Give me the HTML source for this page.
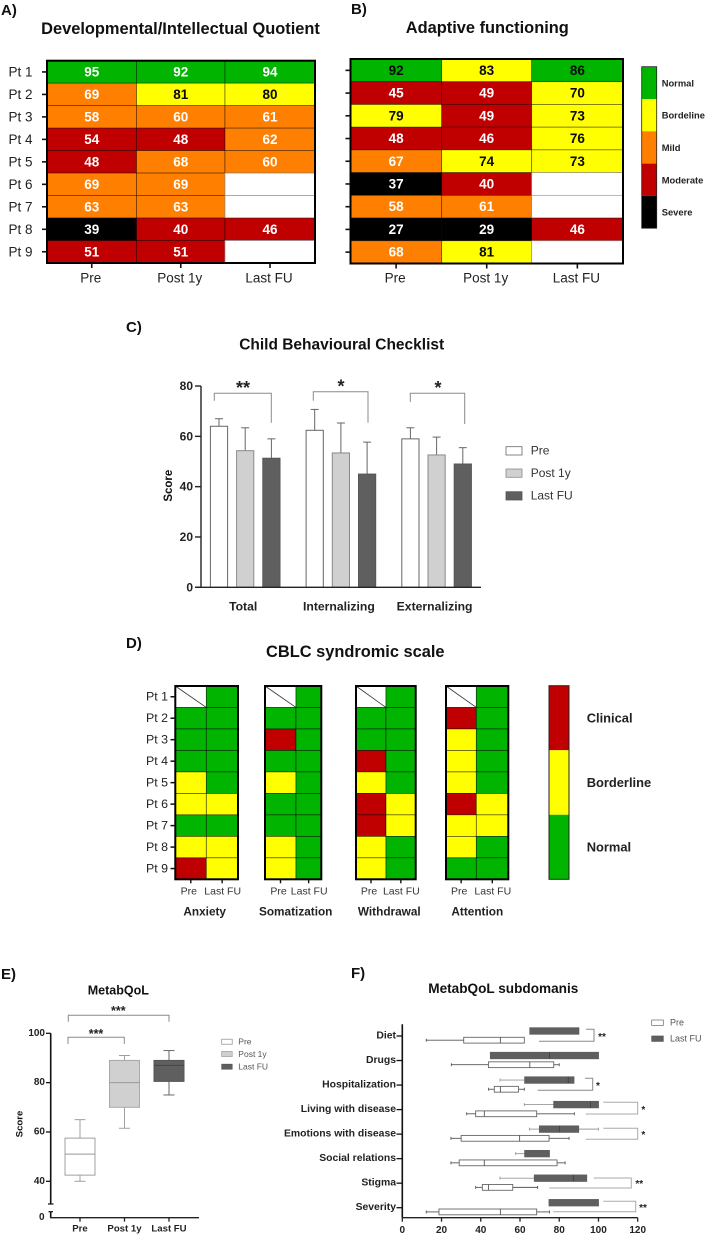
<!DOCTYPE html>
<html lang="en">
<head>
<meta charset="utf-8">
<title>Clinical outcome charts</title>
<style>
html,body{margin:0;padding:0;background:#fff;}
svg{display:block;font-family:"Liberation Sans",Arial,sans-serif;filter:blur(0.35px);}
.letter{font-size:15px;font-weight:bold;fill:#111;}
.title{font-weight:bold;fill:#111;text-anchor:middle;dominant-baseline:central;}
.br{fill:none;stroke:#8a8a8a;stroke-width:1;}
.star{font-weight:bold;fill:#222;text-anchor:middle;dominant-baseline:central;}
.leg{fill:#333;dominant-baseline:central;}
</style>
</head>
<body>
<svg id="fig" xmlns="http://www.w3.org/2000/svg" width="709" height="1236" viewBox="0 0 709 1236">
  <rect width="709" height="1236" fill="#fff"/>

  <text class="letter" x="1" y="15">A)</text>
  <text class="letter" x="351" y="14">B)</text>
  <text class="letter" x="126" y="332">C)</text>
  <text class="letter" x="126" y="648">D)</text>
  <text class="letter" x="1" y="979">E)</text>
  <text class="letter" x="351" y="978">F)</text>

  <text class="title" x="180.5" y="29" font-size="16.4">Developmental/Intellectual Quotient</text>
  <text class="title" x="487.3" y="28" font-size="16.4">Adaptive functioning</text>
  <text class="title" x="341.7" y="345" font-size="15.5">Child Behavioural Checklist</text>
  <text class="title" x="355.3" y="652" font-size="16.4">CBLC syndromic scale</text>
  <text class="title" x="118.3" y="990.7" font-size="12.5">MetabQoL</text>
  <text class="title" x="503.3" y="988.7" font-size="13.6">MetabQoL subdomanis</text>

  <!-- Panel C significance brackets -->
  <polyline class="br" points="214.3,400.7 214.3,393.3 271.3,393.3 271.3,422.7"/>
  <polyline class="br" points="313.3,400.7 313.3,391.7 368,391.7 368,422.7"/>
  <polyline class="br" points="410.3,402 410.3,393.3 464.7,393.3 464.7,424"/>
  <text class="star" x="243" y="388" font-size="18">**</text>
  <text class="star" x="341" y="386.5" font-size="18">*</text>
  <text class="star" x="438" y="388" font-size="18">*</text>

  <!-- Panel C legend -->
  <rect x="506" y="446.7" width="16" height="8.3" fill="#fff" stroke="#666" stroke-width="0.8"/>
  <rect x="506" y="469" width="16" height="8.3" fill="#d0d0d0" stroke="#888" stroke-width="0.8"/>
  <rect x="506" y="491.7" width="16" height="8.3" fill="#5f5f5f" stroke="#555" stroke-width="0.8"/>
  <text class="leg" x="530.7" y="450.5" font-size="12">Pre</text>
  <text class="leg" x="530.7" y="473" font-size="12">Post 1y</text>
  <text class="leg" x="530.7" y="495.5" font-size="12">Last FU</text>
  <text class="title" font-size="11.5" transform="translate(169,485.7) rotate(-90)">Score</text>

  <!-- Panel E annotations -->
  <polyline class="br" points="68.3,1021.7 68.3,1015.3 169,1015.3 169,1021.7"/>
  <polyline class="br" points="68,1044 68,1037.3 124.3,1037.3 124.3,1044"/>
  <text class="star" x="118.3" y="1011" font-size="12.5">***</text>
  <text class="star" x="96" y="1034" font-size="12.5">***</text>
  <rect x="221.7" y="1039.2" width="10.5" height="5" fill="#fff" stroke="#888" stroke-width="0.7"/>
  <rect x="221.7" y="1051.5" width="10.5" height="5" fill="#d0d0d0" stroke="#999" stroke-width="0.7"/>
  <rect x="221.7" y="1064.2" width="10.5" height="5" fill="#5f5f5f" stroke="#555" stroke-width="0.7"/>
  <text class="leg" x="238.3" y="1041.7" font-size="8.5" style="fill:#555">Pre</text>
  <text class="leg" x="238.3" y="1054" font-size="8.5" style="fill:#555">Post 1y</text>
  <text class="leg" x="238.3" y="1066.7" font-size="8.5" style="fill:#555">Last FU</text>
  <text class="title" font-size="9.6" transform="translate(20,1124) rotate(-90)">Score</text>

  <!-- Panel F annotations -->
  <polyline class="br" points="586,1029.3 594,1029.3 594,1041.3 539,1041.3"/>
  <polyline class="br" points="585,1078.3 592.7,1078.3 592.7,1090.3 537.7,1090.3"/>
  <polyline class="br" style="stroke:#aaa" points="603.3,1102.3 637.7,1102.3 637.7,1114 585.7,1114"/>
  <polyline class="br" style="stroke:#aaa" points="603.3,1128.3 637.7,1128.3 637.7,1139.3 585.7,1139.3"/>
  <polyline class="br" style="stroke:#aaa" points="593.7,1178 631.3,1178 631.3,1188 549.3,1188"/>
  <polyline class="br" style="stroke:#aaa" points="603.3,1201.3 635.7,1201.3 635.7,1211.7 553.3,1211.7"/>
  <text class="star" x="602" y="1037.5" font-size="10">**</text>
  <text class="star" x="598" y="1086.5" font-size="10">*</text>
  <text class="star" x="643.3" y="1110.5" font-size="10">*</text>
  <text class="star" x="643.3" y="1135.5" font-size="10">*</text>
  <text class="star" x="639.3" y="1184.5" font-size="10">**</text>
  <text class="star" x="643" y="1208.5" font-size="10">**</text>
  <rect x="651.7" y="1020" width="11.6" height="5.4" fill="#fff" stroke="#666" stroke-width="0.7"/>
  <rect x="651.7" y="1036" width="11.6" height="5.4" fill="#5f5f5f" stroke="#555" stroke-width="0.7"/>
  <text class="leg" x="670" y="1022.7" font-size="9" style="fill:#555">Pre</text>
  <text class="leg" x="670" y="1038.7" font-size="9" style="fill:#555">Last FU</text>
</svg>

<script>
// ---------- shared categories ----------
const patients = ['Pt 1','Pt 2','Pt 3','Pt 4','Pt 5','Pt 6','Pt 7','Pt 8','Pt 9'];
const timepoints = ['Pre','Post 1y','Last FU'];

// ---------- panel A / B values ----------
const dqPre  = [95,69,58,54,48,69,63,39,51];
const dqPost = [92,81,60,48,68,69,63,40,51];
const dqLast = [94,80,61,62,60,null,null,46,null];
const afPre  = [92,45,79,48,67,37,58,27,68];
const afPost = [83,49,49,46,74,40,61,29,81];
const afLast = [86,70,73,76,73,null,null,46,null];
const severityLabels = ['Normal','Bordeline','Mild','Moderate','Severe'];

// ---------- panel C values ----------
const cblGroups = ['Total','Internalizing','Externalizing'];
const cblSeries = ['Pre','Post 1y','Last FU'];
const cblPre  = [64,62.4,59];
const cblPost = [54.3,53.4,52.6];
const cblLast = [51.3,45,49];
const cblErrPre  = [3,8.3,4.4];
const cblErrPost = [9.1,11.9,7.1];
const cblErrLast = [7.7,12.7,6.5];
const cblTicks = [0,20,40,60,80];

// ---------- panel D values (N normal, B borderline, C clinical, null missing) ----------
const syndromes = ['Anxiety','Somatization','Withdrawal','Attention'];
const syndromeCols = ['Pre','Last FU'];
const anxietyPre  = [null,'N','N','N','B','B','N','B','C'];
const anxietyLast = ['N','N','N','N','N','B','N','B','B'];
const somatPre  = [null,'N','C','N','B','N','N','B','B'];
const somatLast = ['N','N','N','N','N','N','N','N','N'];
const withdrawalPre  = [null,'N','N','C','B','C','C','B','B'];
const withdrawalLast = ['N','N','N','N','N','B','B','N','N'];
const attentionPre  = [null,'C','B','B','B','C','B','B','N'];
const attentionLast = ['N','N','N','N','N','B','B','N','N'];
const clinicalLabels = ['Clinical','Borderline','Normal'];

// ---------- panel E values ----------
const qolGroups = ['Pre','Post 1y','Last FU'];
const qolMin = [40,61.5,75];
const qolQ1  = [42.5,70,80.5];
const qolMed = [51,80,87];
const qolQ3  = [57.5,89,89];
const qolMax = [65,91,93];
const qolTicks = [0,40,60,80,100];

// ---------- panel F values ----------
const domains = ['Diet','Drugs','Hospitalization','Living with disease','Emotions with disease','Social relations','Stigma','Severity'];
const preMin = [12.2,25,44,32.8,24.8,24.8,37.4,12.2];
const preQ1  = [31.3,43.9,46.9,37.4,30,29,40.8,18.7];
const preMed = [50,65,50,41.8,59.8,41.8,43.9,50];
const preQ3  = [62.2,77.2,59.2,68.5,74.8,78.9,56.3,68.5];
const preMax = [62.2,80,62.2,87.7,85,83,69,75];
const lastMin = [65,44.9,49.8,62.2,64.8,57.8,49.8,74.8];
const lastQ1  = [65,44.9,62.4,77.2,69.9,62.4,67.3,74.8];
const lastMed = [null,75,84.6,95.9,80.2,null,87.2,null];
const lastQ3  = [90,100,87.5,100,89.9,75,94,100];
const lastMax = [90,100,87.5,100,100,75,94,100];
const domainTicks = [0,20,40,60,80,100,120];

// ---------- helpers ----------
const NS = 'http://www.w3.org/2000/svg';
const fig = document.getElementById('fig');
function make(tag, attrs) {
  const el = document.createElementNS(NS, tag);
  for (const k in attrs) el.setAttribute(k, attrs[k]);
  fig.appendChild(el);
  return el;
}
function line(x1, y1, x2, y2, stroke, width) {
  return make('line', {x1, y1, x2, y2, stroke, 'stroke-width': width});
}
function label(str, x, y, size, anchor, weight, fill) {
  const t = make('text', {x, y, 'font-size': size, 'text-anchor': anchor, 'font-weight': weight, fill, 'dominant-baseline': 'central'});
  t.textContent = str;
  return t;
}
const slug = s => s.toLowerCase().replace(/[^a-z0-9]+/g, '-');
const SCALE_COLORS = {Normal:'#00b400', Bordeline:'#ffff00', Mild:'#ff7f00', Moderate:'#c00000', Severe:'#000000'};
function severityOf(v) {
  if (v >= 85) return 'Normal';
  if (v >= 70) return 'Bordeline';
  if (v >= 55) return 'Mild';
  if (v >= 40) return 'Moderate';
  return 'Severe';
}

// ---------- panels A and B ----------
function drawHeatmap(prefix, x0, x1, x2, x3, y0, y1, columns, showRows) {
  const edges = [x0, x1, x2, x3];
  const rowH = (y1 - y0) / patients.length;
  const rowY = i => y0 + i * rowH;
  columns.forEach((col, c) => {
    col.forEach((v, r) => {
      const cell = make('rect', {x: edges[c], y: rowY(r), width: edges[c+1]-edges[c], height: rowH,
        fill: v === null ? '#fff' : SCALE_COLORS[severityOf(v)], stroke: v === null ? '#999' : 'rgba(0,0,0,.55)', 'stroke-width': 0.7});
      
      
      if (v !== null) {
        const sev = severityOf(v);
        const dark = sev === 'Bordeline' || (prefix === 'adaptive' && sev === 'Normal');
        const tx = label(String(v), (edges[c]+edges[c+1])/2, rowY(r)+rowH/2, 13.5, 'middle', 'bold', dark ? '#0a0a0a' : '#fff');
        
        
      }
    });
  });
  const frame = make('rect', {x: x0, y: y0, width: x3-x0, height: y1-y0, fill: 'none', stroke: '#000', 'stroke-width': 2});
  
  
  patients.forEach((p, r) => {
    const tick = line(x0-5, rowY(r)+rowH/2, x0, rowY(r)+rowH/2, '#111', 1.6);
    
    
    if (showRows) {
      const t = label(p, x0-14.5, rowY(r)+rowH/2, 13.5, 'end', 'normal', '#222');
      
      
    }
  });
  timepoints.forEach((tp, c) => {
    const cx = (edges[c]+edges[c+1])/2;
    const tick = line(cx, y1, cx, y1+5, '#111', 1.6);
    
    
    const t = label(tp, cx-1, 278, 13.5, 'middle', 'normal', '#222');
    
    
  });
}
drawHeatmap('quotient', 47, 136.5, 225, 315, 60.7, 263, [dqPre, dqPost, dqLast], true);
drawHeatmap('adaptive', 350.5, 441.7, 531.7, 623, 59, 263.5, [afPre, afPost, afLast], false);

// severity colour scale
severityLabels.forEach((name, i) => {
  const segH = 32.3;
  const top = 66.7 + i * segH;
  const seg = make('rect', {x: 641.7, y: top, width: 15, height: segH, fill: SCALE_COLORS[name]});
  
  
  const tx = label(name, 661.7, top + segH/2, 9.4, 'start', 'bold', '#222');
  
  
});
const scaleBorder = make('rect', {x: 641.7, y: 66.7, width: 15, height: 161.5, fill: 'none', stroke: '#222', 'stroke-width': 0.8});



// ---------- panel C ----------
const cY = v => 587.3 - v * 2.516;
const cX = (g, s) => 219 + g * 95.7 + s * 26.2;
const cFill = ['#fff', '#d0d0d0', '#5f5f5f'];
const cStroke = ['#666', '#8a8a8a', '#555'];
[cblPre, cblPost, cblLast].forEach((values, s) => {
  const errs = [cblErrPre, cblErrPost, cblErrLast][s];
  values.forEach((v, g) => {
    const whisker = line(cX(g, s), cY(v), cX(g, s), cY(v + errs[g]), '#666', 1);
    
    
    const cap = line(cX(g, s)-4, cY(v + errs[g]), cX(g, s)+4, cY(v + errs[g]), '#666', 1);
    
    
    const bar = make('rect', {x: cX(g, s)-8.6, y: cY(v), width: 17.2, height: cY(0)-cY(v), fill: cFill[s], stroke: cStroke[s], 'stroke-width': 1});
    
    
  });
});
const cYAxis = line(201, cY(80), 201, cY(0), '#222', 1.4);


const cXAxis = line(195, cY(0), 481, cY(0), '#222', 1.4);


cblTicks.forEach(t => {
  const tick = line(195, cY(t), 201, cY(t), '#222', 1.4);
  
  
  const tx = label(String(t), 193, cY(t), 12, 'end', 'bold', '#222');
  
  
});
cblGroups.forEach((name, g) => {
  const tx = label(name, cX(g, 1) - 2, 606.7, 12.2, 'middle', 'bold', '#222');
  
  
});

// ---------- panel D ----------
const D_COLORS = {N:'#00b400', B:'#ffff00', C:'#c00000'};
const dY0 = 686, dY1 = 879.3;
const dRowH = (dY1 - dY0) / patients.length;
function drawSyndrome(idx, x0, xm, x1, preCol, lastCol, labelX) {
  const name = syndromes[idx];
  const edges = [x0, xm, x1];
  [preCol, lastCol].forEach((col, c) => {
    col.forEach((v, r) => {
      const top = dY0 + r * dRowH;
      const cell = make('rect', {x: edges[c], y: top, width: edges[c+1]-edges[c], height: dRowH, fill: v === null ? '#fff' : D_COLORS[v], stroke: 'rgba(0,0,0,.65)', 'stroke-width': 0.7});
      
      
      if (v === null) {
        const diag = line(edges[c], top, edges[c+1], top + dRowH, '#333', 0.8);
        
        
      }
    });
  });
  const frame = make('rect', {x: x0, y: dY0, width: x1-x0, height: dY1-dY0, fill: 'none', stroke: '#000', 'stroke-width': 2});
  
  
  syndromeCols.forEach((cn, c) => {
    const cx = (edges[c]+edges[c+1])/2;
    const tick = line(cx, dY1, cx, dY1+4, '#111', 1.4);
    
    
    const tx = label(cn, cx - (c === 0 ? 2 : -0.5), 891.7, 10.5, 'middle', 'normal', '#333');
    
    
  });
  const gl = label(name, labelX, 911.7, 11.8, 'middle', 'bold', '#222');
  
  
}
drawSyndrome(0, 175.3, 206.3, 238, anxietyPre, anxietyLast, 204.7);
drawSyndrome(1, 265, 296, 321.3, somatPre, somatLast, 295.7);
drawSyndrome(2, 356, 386, 415.7, withdrawalPre, withdrawalLast, 389.3);
drawSyndrome(3, 446, 476.3, 508.3, attentionPre, attentionLast, 477.3);
patients.forEach((p, r) => {
  const cy = dY0 + (r + 0.5) * dRowH;
  const tick = line(170.5, cy, 175.3, cy, '#111', 1.5);
  
  
  const tx = label(p, 168, cy, 12.4, 'end', 'normal', '#222');
  
  
});
['C','B','N'].forEach((k, i) => {
  const segH = (879.3 - 685.7) / 3;
  const top = 685.7 + i * segH;
  const seg = make('rect', {x: 549, y: top, width: 20, height: segH, fill: D_COLORS[k]});
  
  
  const tx = label(clinicalLabels[i], 586.7, top + segH/2, 12.9, 'start', 'bold', '#222');
  
  
});
const clinicalBorder = make('rect', {x: 549, y: 685.7, width: 20, height: 193.6, fill: 'none', stroke: '#222', 'stroke-width': 1});



// ---------- panel E ----------
const eY = v => v === 0 ? 1217.7 : 1181.3 - (v - 40) * 2.4667;
const eX = i => 80 + i * 44.5;
const eFill = ['#fff', '#d0d0d0', '#5f5f5f'];
const eStroke = ['#a0a0a0', '#a8a8a8', '#555'];
qolGroups.forEach((name, i) => {
  const cx = eX(i);
  const stem = line(cx, eY(qolMin[i]), cx, eY(qolMax[i]), i === 2 ? '#666' : '#a0a0a0', 1);
  
  
  const capLow = line(cx-5.5, eY(qolMin[i]), cx+5.5, eY(qolMin[i]), i === 2 ? '#666' : '#a0a0a0', 1);
  
  
  const capHigh = line(cx-5.5, eY(qolMax[i]), cx+5.5, eY(qolMax[i]), i === 2 ? '#666' : '#a0a0a0', 1);
  
  
  const box = make('rect', {x: cx-15, y: eY(qolQ3[i]), width: 30, height: eY(qolQ1[i])-eY(qolQ3[i]), fill: eFill[i], stroke: eStroke[i], 'stroke-width': 1});
  
  
  const med = line(cx-15, eY(qolMed[i]), cx+15, eY(qolMed[i]), i === 2 ? '#444' : '#999', 1);
  
  
  const tick = line(cx, 1217.7, cx, 1221.7, '#222', 1.3);
  
  
  const tx = label(name, cx, 1229, 9.6, 'middle', 'bold', '#222');
  
  
});
const eAxisUpper = line(50.7, eY(100), 50.7, 1204, '#111', 1.6);


const eBreakTop = line(48, 1204, 53.5, 1204, '#111', 1.2);


const eAxisLower = line(50.7, 1211.7, 50.7, 1217.7, '#111', 1.6);


const eBreakLow = line(48.5, 1211.7, 53, 1211.7, '#111', 1.2);


const eXAxis = line(50, 1217.7, 199, 1217.7, '#222', 1.4);


qolTicks.forEach(t => {
  if (t !== 0) {
    const tick = line(46, eY(t), 50.7, eY(t), '#111', 1.3);
    
    
  }
  const tx = label(String(t), t === 0 ? 44.5 : 45, eY(t), 10, 'end', 'bold', '#222');
  
  
});

// ---------- panel F ----------
const fX = v => 402.3 + v * 1.9617;
const fY = i => 1036 + i * 24.53;
function hbox(name, cy, h, min, q1, med, q3, max, fill, stroke, whisk) {
  if (min < q1) {
    const w = line(fX(min), cy, fX(q1), cy, whisk, 0.9);
    
    
    const c = line(fX(min), cy-1.5, fX(min), cy+1.5, whisk, 0.9);
    
    
  }
  if (max > q3) {
    const w = line(fX(q3), cy, fX(max), cy, whisk, 0.9);
    
    
    const c = line(fX(max), cy-1.5, fX(max), cy+1.5, whisk, 0.9);
    
    
  }
  const box = make('rect', {x: fX(q1), y: cy-h/2, width: fX(q3)-fX(q1), height: h, fill, stroke, 'stroke-width': 0.9});
  
  
  if (med !== null) {
    const m = line(fX(med), cy-h/2, fX(med), cy+h/2, fill === '#fff' ? '#555' : '#404040', 0.9);
    
    
  }
}
domains.forEach((d, i) => {
  hbox(slug(d) + '-last-fu', fY(i) - 5, 6.4, lastMin[i], lastQ1[i], lastMed[i], lastQ3[i], lastMax[i], '#5f5f5f', '#5f5f5f', '#999');
  hbox(slug(d) + '-pre', fY(i) + 4.2, 5.8, preMin[i], preQ1[i], preMed[i], preQ3[i], preMax[i], '#fff', '#666', '#555');
  const tick = line(396.5, fY(i), 402.3, fY(i), '#111', 1.3);
  
  
  const tx = label(d, 396, fY(i), 10.4, 'end', 'bold', '#222');
  
  
});
const fYAxis = line(402.3, 1024.3, 402.3, 1217.7, '#111', 1.6);


const fXAxis = line(402.3, 1217.7, 637.7, 1217.7, '#222', 1.4);


domainTicks.forEach(t => {
  const tick = line(fX(t), 1217.7, fX(t), 1221.7, '#222', 1.3);
  
  
  const tx = label(String(t), fX(t), 1230.7, 10, 'middle', 'bold', '#222');
  
  
});
</script>
</body>
</html>
